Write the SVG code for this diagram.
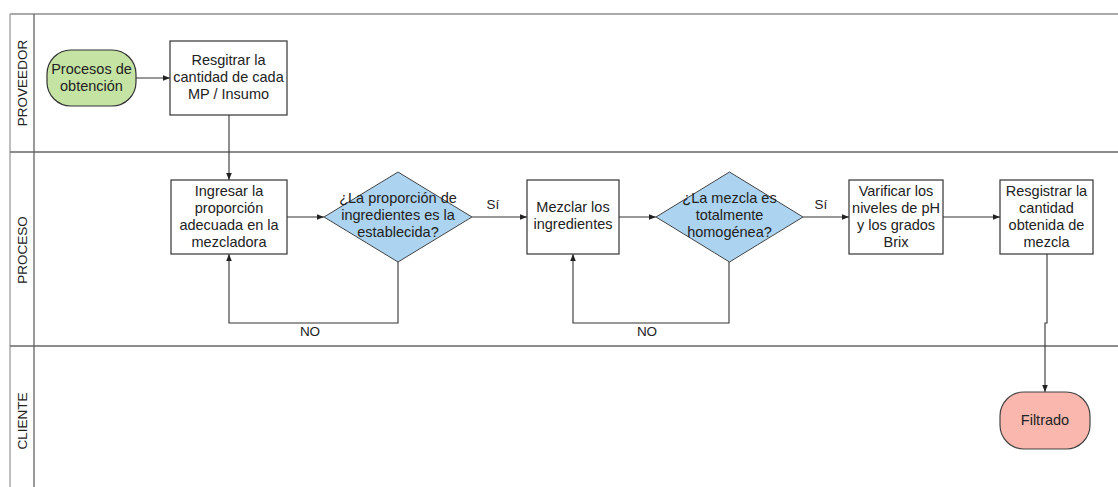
<svg xmlns="http://www.w3.org/2000/svg" width="1118" height="487" viewBox="0 0 1118 487">
<defs>
<marker id="arr" viewBox="0 0 10 10" refX="10" refY="5" markerWidth="7" markerHeight="7" markerUnits="userSpaceOnUse" orient="auto">
<path d="M0,1 L10,5 L0,9 Z" fill="#222"/>
</marker>
<style>
text{font-family:"Liberation Sans",Arial,sans-serif;fill:#222}
.t{font-size:14.5px;text-anchor:middle}
.lane{font-size:13.5px;text-anchor:middle}
.lbl{font-size:13.5px;text-anchor:middle}
.box{fill:#fff;stroke:#333;stroke-width:1.2}
.dia{fill:#acd3ef;stroke:#444;stroke-width:1}
.c{fill:none;stroke:#333;stroke-width:1.1}
</style>
</defs>
<rect width="1118" height="487" fill="#fff"/>
<g id="lanes">
<line x1="10" y1="14" x2="1118" y2="14" stroke="#aaa" stroke-width="2"/>
<line x1="10" y1="14" x2="10" y2="487" stroke="#aaa" stroke-width="1.5"/>
<line x1="34" y1="14" x2="34" y2="487" stroke="#555" stroke-width="1.2"/>
<line x1="10" y1="152" x2="1118" y2="152" stroke="#666" stroke-width="1.5"/>
<line x1="10" y1="346" x2="1118" y2="346" stroke="#666" stroke-width="1.5"/>
<text class="lane" transform="translate(27,83) rotate(-90)">PROVEEDOR</text>
<text class="lane" transform="translate(27,250) rotate(-90)">PROCESO</text>
<text class="lane" transform="translate(27,421) rotate(-90)">CLIENTE</text>
</g>
<g id="connectors">
<line class="c" x1="136" y1="78" x2="170" y2="78" marker-end="url(#arr)"/>
<line class="c" x1="229" y1="115" x2="229" y2="180" marker-end="url(#arr)"/>
<line class="c" x1="287" y1="217" x2="324" y2="217" marker-end="url(#arr)"/>
<polyline class="c" points="398,262 398,323 229,323 229,254" marker-end="url(#arr)"/>
<line class="c" x1="472" y1="217" x2="527" y2="217" marker-end="url(#arr)"/>
<line class="c" x1="619" y1="217" x2="656" y2="217" marker-end="url(#arr)"/>
<polyline class="c" points="729,262 729,323 573,323 573,254" marker-end="url(#arr)"/>
<line class="c" x1="803" y1="217" x2="849" y2="217" marker-end="url(#arr)"/>
<line class="c" x1="943" y1="217" x2="1000" y2="217" marker-end="url(#arr)"/>
<polyline class="c" points="1047,254 1047,323 1045,323 1045,392" marker-end="url(#arr)"/>
<text class="lbl" x="310" y="336">NO</text>
<text class="lbl" x="647" y="336">NO</text>
<text class="lbl" x="493" y="209">Sí</text>
<text class="lbl" x="821" y="209">Sí</text>
</g>
<g id="n-origen">
<rect x="47" y="50" width="89" height="56" rx="24" ry="24" fill="#c5e4a4" stroke="#333" stroke-width="1.2"/>
<text class="t" x="91.5" y="74">Procesos de</text>
<text class="t" x="91.5" y="91">obtención</text>
</g>
<g id="n-registrar-mp">
<rect class="box" x="170" y="41" width="117" height="74"/>
<text class="t" x="228.5" y="65">Resgitrar la</text>
<text class="t" x="228.5" y="82">cantidad de cada</text>
<text class="t" x="228.5" y="99">MP / Insumo</text>
</g>
<g id="n-ingresar">
<rect class="box" x="171" y="180" width="116" height="74"/>
<text class="t" x="229" y="196">Ingresar la</text>
<text class="t" x="229" y="213">proporción</text>
<text class="t" x="229" y="230">adecuada en la</text>
<text class="t" x="229" y="247">mezcladora</text>
</g>
<g id="n-decision-proporcion">
<polygon class="dia" points="324,217 398,172 472,217 398,262"/>
<text class="t" x="398" y="203">¿La proporción de</text>
<text class="t" x="398" y="220">ingredientes es la</text>
<text class="t" x="398" y="237">establecida?</text>
</g>
<g id="n-mezclar">
<rect class="box" x="527" y="180" width="92" height="74"/>
<text class="t" x="573" y="212">Mezclar los</text>
<text class="t" x="573" y="229">ingredientes</text>
</g>
<g id="n-decision-homogenea">
<polygon class="dia" points="656,217 729.5,172 803,217 729.5,262"/>
<text class="t" x="729.5" y="203">¿La mezcla es</text>
<text class="t" x="729.5" y="220">totalmente</text>
<text class="t" x="729.5" y="237">homogénea?</text>
</g>
<g id="n-verificar">
<rect class="box" x="849" y="180" width="94" height="74"/>
<text class="t" x="896" y="196">Varificar los</text>
<text class="t" x="896" y="213">niveles de pH</text>
<text class="t" x="896" y="230">y los grados</text>
<text class="t" x="896" y="247">Brix</text>
</g>
<g id="n-registrar-mezcla">
<rect class="box" x="1000" y="180" width="93" height="74"/>
<text class="t" x="1046.5" y="196">Resgistrar la</text>
<text class="t" x="1046.5" y="213">cantidad</text>
<text class="t" x="1046.5" y="230">obtenida de</text>
<text class="t" x="1046.5" y="247">mezcla</text>
</g>
<g id="n-filtrado">
<rect x="1000" y="392" width="90" height="57" rx="24" ry="24" fill="#f9b7ae" stroke="#444" stroke-width="1.2"/>
<text class="t" x="1045" y="425">Filtrado</text>
</g>
</svg>
